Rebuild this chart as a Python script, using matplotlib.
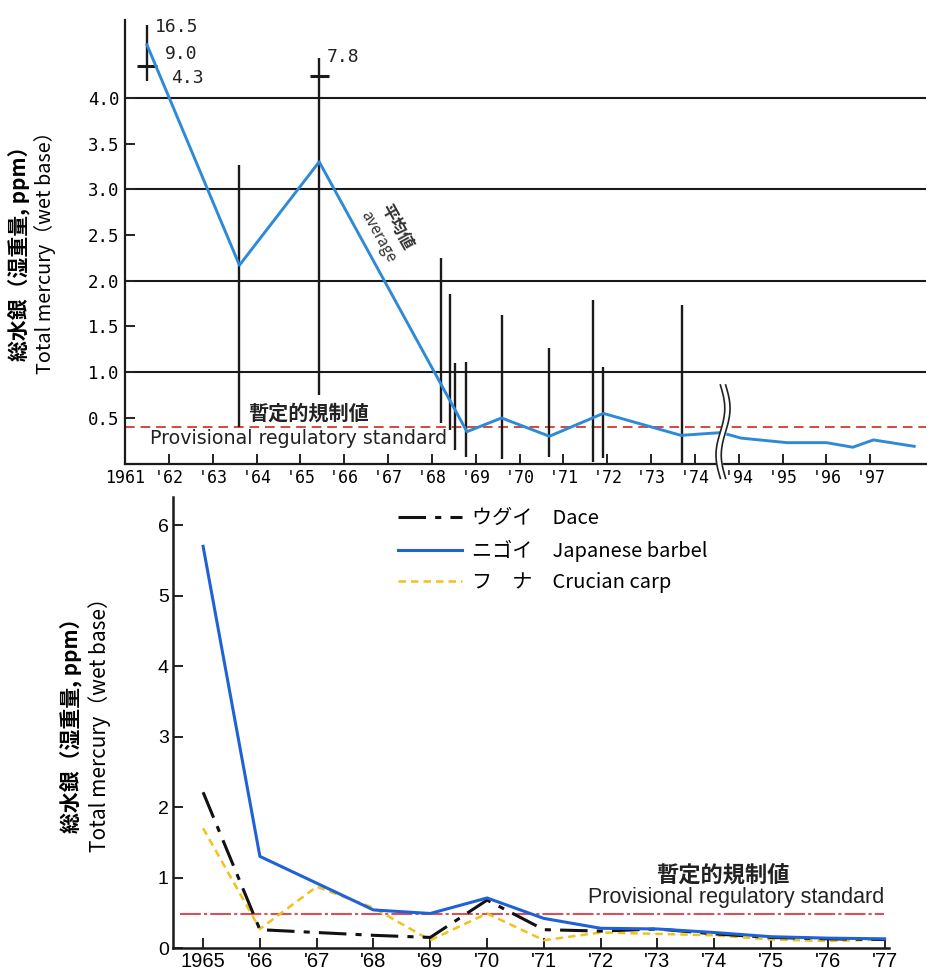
import numpy as np
import matplotlib
matplotlib.use("Agg")
import matplotlib.pyplot as plt

plt.rcParams['font.family'] = ['Noto Sans CJK JP', 'DejaVu Sans']

# ---------------- top chart data (river barbel average, 1961-1997) ----------------
top_tick_years = [1961, 1962, 1963, 1964, 1965, 1966, 1967, 1968, 1969, 1970,
                  1971, 1972, 1973, 1974, 1994, 1995, 1996, 1997]
top_tick_labels = ['1961', "'62", "'63", "'64", "'65", "'66", "'67", "'68", "'69",
                   "'70", "'71", "'72", "'73", "'74", "'94", "'95", "'96", "'97"]

# range bars (min / max of samples)
bar_years = [1961.5, 1963.61, 1965.43, 1968.20, 1968.41, 1968.52, 1968.77,
             1969.59, 1970.68, 1971.68, 1971.91, 1973.70]
bar_high = [4.80, 3.26, 4.44, 2.25, 1.86, 1.10, 1.11, 1.63, 1.27, 1.79, 1.06, 1.74]
bar_low = [4.18, 0.40, 0.75, 0.45, 0.37, 0.15, 0.07, 0.05, 0.07, 0.02, 0.06, 0.01]

# off-scale means drawn as crosses
cross_years = [1961.5, 1965.43]
cross_vals = [4.35, 4.24]

# off-scale value notes
note_years = [1961.68, 1961.91, 1962.05, 1965.61]
note_vals = [4.77, 4.48, 4.22, 4.45]
note_texts = ['16.5', '9.0', '4.3', '7.8']

# average line
avg_years = [1961.5, 1963.61, 1965.43, 1968.80, 1969.59, 1970.68, 1971.91,
             1973.68, 1974.60, 1994.05, 1995.10, 1996.00, 1996.60, 1997.07, 1998.00]
avg_vals = [4.58, 2.17, 3.30, 0.35, 0.50, 0.30, 0.55,
            0.31, 0.34, 0.28, 0.23, 0.23, 0.18, 0.26, 0.19]

grid_levels = [1.0, 2.0, 3.0, 4.0]
top_yticks = [0.5, 1.0, 1.5, 2.0, 2.5, 3.0, 3.5, 4.0]
top_standard = 0.40

# ---------------- bottom chart data (1965-1977, three species) ----------------
years = [1965, 1966, 1967, 1968, 1969, 1970, 1971, 1972, 1973, 1974, 1975, 1976, 1977]
year_labels = ['1965', "'66", "'67", "'68", "'69", "'70", "'71", "'72", "'73",
               "'74", "'75", "'76", "'77"]
dace = [2.21, 0.26, 0.22, 0.18, 0.15, 0.68, 0.26, 0.24, 0.27, 0.20, 0.15, 0.13, 0.12]
barbel = [5.70, 1.30, 0.92, 0.54, 0.49, 0.71, 0.42, 0.28, 0.27, 0.22, 0.16, 0.14, 0.13]
carp = [1.70, 0.27, 0.87, 0.57, 0.11, 0.49, 0.11, 0.22, 0.20, 0.18, 0.12, 0.10, 0.12]
bottom_standard = 0.48

ylabel_jp = '総水銀（湿重量, ppm）'
ylabel_en = 'Total mercury（wet base）'
std_jp = '暫定的規制値'
std_en = 'Provisional regulatory standard'


def top_pos(y):
    """compress the gap 1975-1993 on the top x axis"""
    y = np.asarray(y, dtype=float)
    return np.where(y < 1980, y - 1961, y - 1980)


break_pos = 13.64

fig = plt.figure(figsize=(9.28, 9.72), dpi=100)

# ======================= top chart =======================
ax = fig.add_axes([125 / 928, 1 - 463.7 / 972, 801 / 928, 443.7 / 972])
ax.set_xlim(0.05, 18.27)
ax.set_ylim(0, 4.85)

for lev in grid_levels:
    ax.axhline(lev, color='#1a1a1a', lw=1.5, zorder=1)

ax.axhline(top_standard, color='#d24a3c', lw=1.4, ls=(0, (5, 3)), zorder=2)

ax.vlines(top_pos(bar_years), bar_low, bar_high, color='#1a1a1a', lw=1.7, zorder=3)
ax.hlines(cross_vals, top_pos(cross_years) - 0.22, top_pos(cross_years) + 0.22,
          color='#1a1a1a', lw=2.2, zorder=3)
for yr, v, t in zip(note_years, note_vals, note_texts):
    ax.text(top_pos(yr), v, t, fontsize=13, family='DejaVu Sans Mono',
            va='center', ha='left', color='#222')

ax.plot(top_pos(avg_years), avg_vals, color='#2e8ad6', lw=2.1, zorder=4)

# break mark
t = np.linspace(0, 1, 60)
by = 0.86 - 1.02 * t
bx = break_pos + 0.10 * np.sin(2 * np.pi * t)
ax.fill_betweenx(by, bx - 0.06, bx + 0.06, color='white', zorder=5, clip_on=False)
ax.plot(bx - 0.06, by, color='#222', lw=1.2, zorder=6, clip_on=False)
ax.plot(bx + 0.06, by, color='#222', lw=1.2, zorder=6, clip_on=False)

ax.text(4.18, 0.55, std_jp, fontsize=14.5, fontweight='bold', ha='center',
        va='center', color='#222')
ax.text(3.95, 0.27, std_en, fontsize=13.7, family='DejaVu Sans', ha='center',
        va='center', color='#222')
ax.text(6.2, 2.59, '平均値', fontsize=12, fontweight='bold', rotation=-61,
        ha='center', va='center', color='#333')
ax.text(5.77, 2.48, 'average', fontsize=11, rotation=-61, ha='center', va='center',
        color='#333')

ax.set_xticks(top_pos(top_tick_years))
ax.set_xticklabels(top_tick_labels, family='DejaVu Sans Mono', fontsize=12)
ax.set_yticks(top_yticks)
ax.set_yticklabels(['%.1f' % v for v in top_yticks], family='DejaVu Sans Mono',
                   fontsize=12.5)
ax.tick_params(axis='both', direction='in', length=7, width=1.4, color='#222', pad=4)
for s in ['top', 'right']:
    ax.spines[s].set_visible(False)
for s in ['left', 'bottom']:
    ax.spines[s].set_linewidth(1.6)
    ax.spines[s].set_color('#1a1a1a')

fig.text(20 / 928, 1 - 248 / 972, ylabel_jp, rotation=90, ha='center', va='center',
         fontsize=15, fontweight='bold')
fig.text(45 / 928, 1 - 248 / 972, ylabel_en, rotation=90, ha='center', va='center',
         fontsize=14.3)

# ======================= bottom chart =======================
ax2 = fig.add_axes([173 / 928, 1 - 948 / 972, 715.6 / 928, 451 / 972])
ax2.set_xlim(1964.47, 1977.07)
ax2.set_ylim(0, 6.4)

ax2.axhline(bottom_standard, xmin=0.01, xmax=0.993, color='#d8505c', lw=1.5,
            ls=(0, (10, 1.5, 1.5, 1.5)), zorder=2)
ax2.plot(years, carp, color='#f2c21a', lw=1.8, ls=(0, (3, 2)), zorder=3,
         label='フ　ナ　Crucian carp')
ax2.plot(years, dace, color='#111', lw=2.2, ls=(0, (9, 3, 2, 3)), zorder=4,
         label='ウグイ　Dace')
ax2.plot(years, barbel, color='#1f62d8', lw=2.2, zorder=5,
         label='ニゴイ　Japanese barbel')

handles, labels = ax2.get_legend_handles_labels()
order = [1, 2, 0]
ax2.legend([handles[i] for i in order], [labels[i] for i in order],
           loc='upper left', bbox_to_anchor=(0.314, 0.975), frameon=False,
           fontsize=14.5, handlelength=3.2, handletextpad=0.5, labelspacing=0.52,
           borderaxespad=0, borderpad=0)

ax2.text(1974.15, 1.04, std_jp, fontsize=16, fontweight='bold', ha='center',
         va='center', color='#222')
ax2.text(1974.38, 0.71, std_en, fontsize=15.5, family='Liberation Sans', ha='center',
         va='center', color='#222')

ax2.set_xticks(years)
ax2.set_xticklabels(year_labels, family='Liberation Sans', fontsize=14.5)
ax2.set_yticks(range(0, 7))
ax2.set_yticklabels([str(v) for v in range(0, 7)], family='Liberation Sans',
                    fontsize=14)
ax2.tick_params(axis='both', direction='in', length=7, width=1.4, color='#222', pad=3)
for s in ['top', 'right']:
    ax2.spines[s].set_visible(False)
for s in ['left', 'bottom']:
    ax2.spines[s].set_linewidth(1.8)
    ax2.spines[s].set_color('#1a1a1a')

fig.text(72 / 928, 1 - 720 / 972, ylabel_jp, rotation=90, ha='center', va='center',
         fontsize=15, fontweight='bold')
fig.text(100 / 928, 1 - 720 / 972, ylabel_en, rotation=90, ha='center', va='center',
         fontsize=15)

fig.savefig('out.png', dpi=100, facecolor='white')
